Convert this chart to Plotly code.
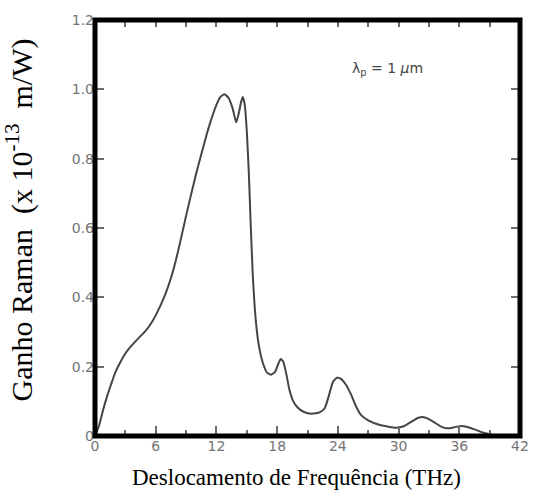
import plotly.graph_objects as go

# Raman gain spectrum of fused silica (pump at 1 um)
freq_thz = [0.0, 0.4, 0.8, 1.2, 1.6, 2.0, 2.5, 3.0, 3.5, 4.0, 4.5, 5.0, 5.5,
            6.0, 6.5, 7.0, 7.5, 8.0, 8.5, 9.0, 9.5, 10.0, 10.5, 11.0, 11.5,
            12.0, 12.4, 12.8, 13.2, 13.6, 13.95, 14.2, 14.45, 14.6, 14.8,
            15.0, 15.2, 15.4, 15.6, 15.9, 16.2, 16.6, 17.0, 17.4, 17.8, 18.1,
            18.35, 18.6, 18.9, 19.2, 19.6, 20.0, 20.6, 21.4, 22.2, 22.7, 23.1,
            23.5, 23.9, 24.3, 24.8, 25.3, 25.8, 26.3, 27.0, 28.0, 29.0, 29.8,
            30.5, 31.2, 31.9, 32.4, 32.9, 33.5, 34.2, 34.8, 35.5, 36.2, 36.8,
            37.5, 38.3, 39.2, 40.2, 41.0]
gain = [0.0, 0.03, 0.075, 0.115, 0.15, 0.183, 0.213, 0.238, 0.257, 0.273,
        0.288, 0.303, 0.323, 0.348, 0.378, 0.413, 0.455, 0.508, 0.57, 0.635,
        0.697, 0.757, 0.812, 0.866, 0.914, 0.955, 0.978, 0.986, 0.975, 0.945,
        0.905, 0.93, 0.965, 0.978, 0.955, 0.88, 0.76, 0.6, 0.46, 0.33, 0.26,
        0.21, 0.183, 0.177, 0.185, 0.207, 0.222, 0.215, 0.18, 0.135, 0.1,
        0.083, 0.07, 0.064, 0.068, 0.08, 0.115, 0.155, 0.168, 0.165, 0.148,
        0.12, 0.085, 0.06, 0.045, 0.033, 0.027, 0.024, 0.028, 0.04, 0.052,
        0.055, 0.05, 0.04, 0.027, 0.022, 0.025, 0.029, 0.026, 0.019, 0.01,
        0.004, 0.0, 0.0]

tick_font = dict(family="DejaVu Sans", size=14, color="#747474")
tick_col = "#6a6a6a"
serif = "Liberation Serif"

fig = go.Figure()
fig.add_trace(go.Scatter(
    x=freq_thz, y=gain, mode="lines",
    line=dict(color="#454545", width=2, shape="spline", smoothing=0.5),
    hoverinfo="skip", showlegend=False))
# helper trace so the top/right tick axes are drawn
fig.add_trace(go.Scatter(
    x=freq_thz, y=gain, mode="lines", xaxis="x2", yaxis="y2",
    line=dict(width=0), opacity=0, hoverinfo="skip", showlegend=False))

fig.update_layout(
    width=541, height=498,
    margin=dict(l=95, r=13, t=16, b=62),
    paper_bgcolor="white", plot_bgcolor="white",
    xaxis=dict(range=[0, 42], tick0=0, dtick=6, ticks="inside", ticklen=10,
               tickwidth=1.5, tickcolor=tick_col, tickfont=tick_font,
               showgrid=False, zeroline=False, showline=False,
               minor=dict(dtick=3, ticks="inside", ticklen=6, tickwidth=1.5,
                          tickcolor=tick_col, showgrid=False)),
    xaxis2=dict(range=[0, 42], overlaying="x", side="top", tick0=0, dtick=3,
                ticks="inside", ticklen=7, tickwidth=1.5, tickcolor=tick_col,
                showticklabels=False, showgrid=False, zeroline=False),
    yaxis=dict(range=[0, 1.2], tick0=0, dtick=0.2, tickformat=".1f",
               labelalias={"0.0": "0"},
               ticks="inside", ticklen=9, tickwidth=1.5, tickcolor=tick_col,
               tickfont=tick_font, showgrid=False, zeroline=False,
               showline=False),
    yaxis2=dict(range=[0, 1.2], overlaying="y", side="right", tick0=0,
                dtick=0.2, ticks="inside", ticklen=9, tickwidth=1.5,
                tickcolor=tick_col, showticklabels=False, showgrid=False,
                zeroline=False),
    shapes=[dict(type="rect", xref="paper", yref="paper", x0=0, x1=1,
                 y0=0, y1=1, line=dict(color="black", width=5),
                 layer="above")],
    annotations=[
        dict(text="λ<sub>p</sub> = 1 <i>μ</i>m", x=28.9, y=1.058, xref="x",
             yref="y", showarrow=False,
             font=dict(family="DejaVu Sans", size=14, color="#454545")),
        dict(text="Deslocamento de Frequência (THz)", x=0.475, y=-0.1,
             xref="paper", yref="paper", showarrow=False,
             xanchor="center", yanchor="middle",
             font=dict(family=serif, size=23, color="black")),
        dict(text="Ganho Raman\u00a0\u00a0(x 10<sup>-13</sup>\u00a0\u00a0m/W)",
             x=-0.177, y=0.52, xref="paper", yref="paper", showarrow=False,
             textangle=-90, xanchor="center", yanchor="middle",
             font=dict(family=serif, size=30, color="black")),
    ],
)

fig.write_html("out.html")
